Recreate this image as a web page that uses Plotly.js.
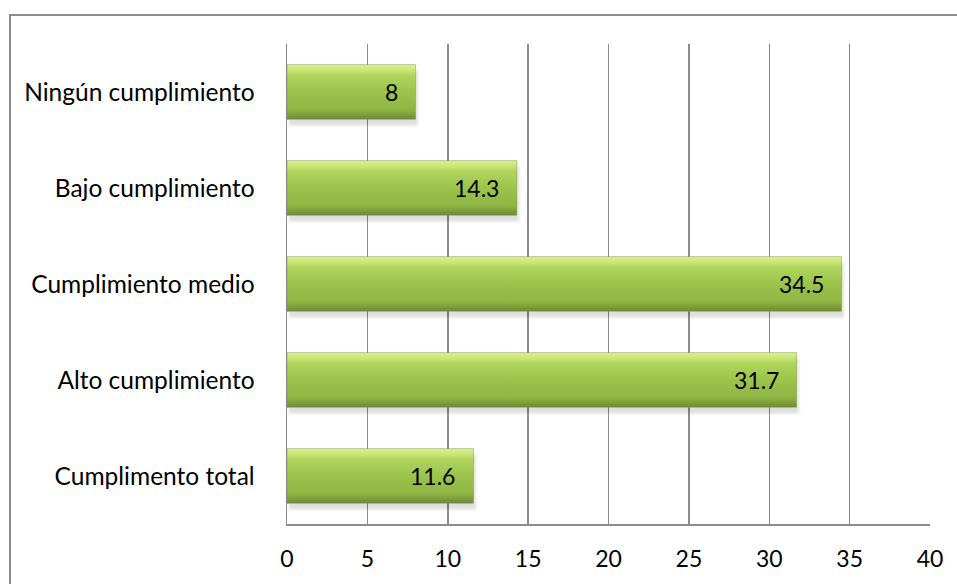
<!DOCTYPE html>
<html>
<head>
<meta charset="utf-8">
<script src="https://cdn.plot.ly/plotly-3.0.1.min.js"></script>
<style>
  html, body { margin: 0; padding: 0; background: #ffffff; }
  #wrap { position: relative; width: 957px; height: 584px; overflow: hidden; }
  #chart { position: absolute; left: 0; top: 0; width: 957px; height: 584px; }
  #frame { position: absolute; left: 9px; top: 14px; width: 960px; height: 600px;
           border: 2px solid #8c8c8c; box-sizing: border-box; pointer-events: none; }
</style>
</head>
<body>
<div id="wrap">
  <div id="chart"></div>
  <div id="frame"></div>
</div>
<script>
// Data (top to bottom in picture)
const categories = ["Ningún cumplimiento", "Bajo cumplimiento", "Cumplimiento medio", "Alto cumplimiento", "Cumplimento total"];
const values = [8, 14.3, 34.5, 31.7, 11.6];
const valueLabels = ["8", "14.3", "34.5", "31.7", "11.6"];
const xTicks = [0, 5, 10, 15, 20, 25, 30, 35, 40];

const fontFam = "Lato, 'Open Sans', sans-serif";

const trace = {
  type: "bar",
  orientation: "h",
  y: categories,
  x: values,
  marker: { color: "#9bc44a", line: { color: "#7a9a3a", width: 0.5 } },
  hoverinfo: "none"
};

const annotations = categories.map((c, i) => ({
  x: values[i], y: c, xref: "x", yref: "y",
  text: valueLabels[i], showarrow: false,
  xanchor: "right", yanchor: "middle", xshift: -16,
  font: { family: fontFam, size: 23, color: "#000000", weight: 400 }
}));

const layout = {
  width: 957, height: 584,
  margin: { l: 287, r: 27, t: 44, b: 60 },
  paper_bgcolor: "#ffffff", plot_bgcolor: "#ffffff",
  showlegend: false,
  bargap: 0.43,
  font: { family: fontFam, size: 24, color: "#000000", weight: 400 },
  xaxis: {
    range: [0, 40], tickvals: xTicks, ticktext: xTicks.map(String),
    showgrid: true, gridcolor: "#8c8c8c", gridwidth: 1.5,
    showline: true, linecolor: "#8c8c8c", linewidth: 1.5,
    zeroline: false, ticks: "", ticklabelstandoff: 14,
    tickfont: { family: fontFam, size: 23, color: "#000000", weight: 400 },
    fixedrange: true
  },
  yaxis: {
    autorange: "reversed", type: "category",
    showgrid: false, zeroline: false,
    showline: true, linecolor: "#8c8c8c", linewidth: 1.5,
    ticks: "", ticklabelstandoff: 26,
    tickfont: { family: fontFam, size: 24.5, color: "#000000", weight: 400 },
    fixedrange: true
  },
  annotations: annotations
};

Plotly.newPlot("chart", [trace], layout, { displayModeBar: false, staticPlot: true }).then(() => {
  const svg = document.querySelector("#chart svg.main-svg");
  const ns = "http://www.w3.org/2000/svg";
  let defs = svg.querySelector("defs");
  if (!defs) { defs = document.createElementNS(ns, "defs"); svg.insertBefore(defs, svg.firstChild); }
  const grad = document.createElementNS(ns, "linearGradient");
  grad.setAttribute("id", "barGrad");
  grad.setAttribute("x1", "0"); grad.setAttribute("y1", "0");
  grad.setAttribute("x2", "0"); grad.setAttribute("y2", "1");
  const stops = [
    [0, "#d9f08e"], [0.08, "#cfe97c"], [0.2, "#aed45a"], [0.5, "#9cc44c"],
    [0.82, "#8fb443"], [0.92, "#7d9c3a"], [1, "#6e8a33"]
  ];
  stops.forEach(([o, c]) => {
    const s = document.createElementNS(ns, "stop");
    s.setAttribute("offset", o); s.setAttribute("stop-color", c);
    grad.appendChild(s);
  });
  defs.appendChild(grad);
  const filt = document.createElementNS(ns, "filter");
  filt.setAttribute("id", "barShadow");
  filt.setAttribute("x", "-5%"); filt.setAttribute("y", "-10%");
  filt.setAttribute("width", "115%"); filt.setAttribute("height", "140%");
  const ds = document.createElementNS(ns, "feDropShadow");
  ds.setAttribute("dx", "2"); ds.setAttribute("dy", "6");
  ds.setAttribute("stdDeviation", "1.5");
  ds.setAttribute("flood-color", "#000000"); ds.setAttribute("flood-opacity", "0.13");
  filt.appendChild(ds);
  defs.appendChild(filt);
  document.querySelectorAll("#chart .bars .point path").forEach(p => {
    p.style.fill = "url(#barGrad)";
    p.setAttribute("filter", "url(#barShadow)");
  });
});
</script>
</body>
</html>
